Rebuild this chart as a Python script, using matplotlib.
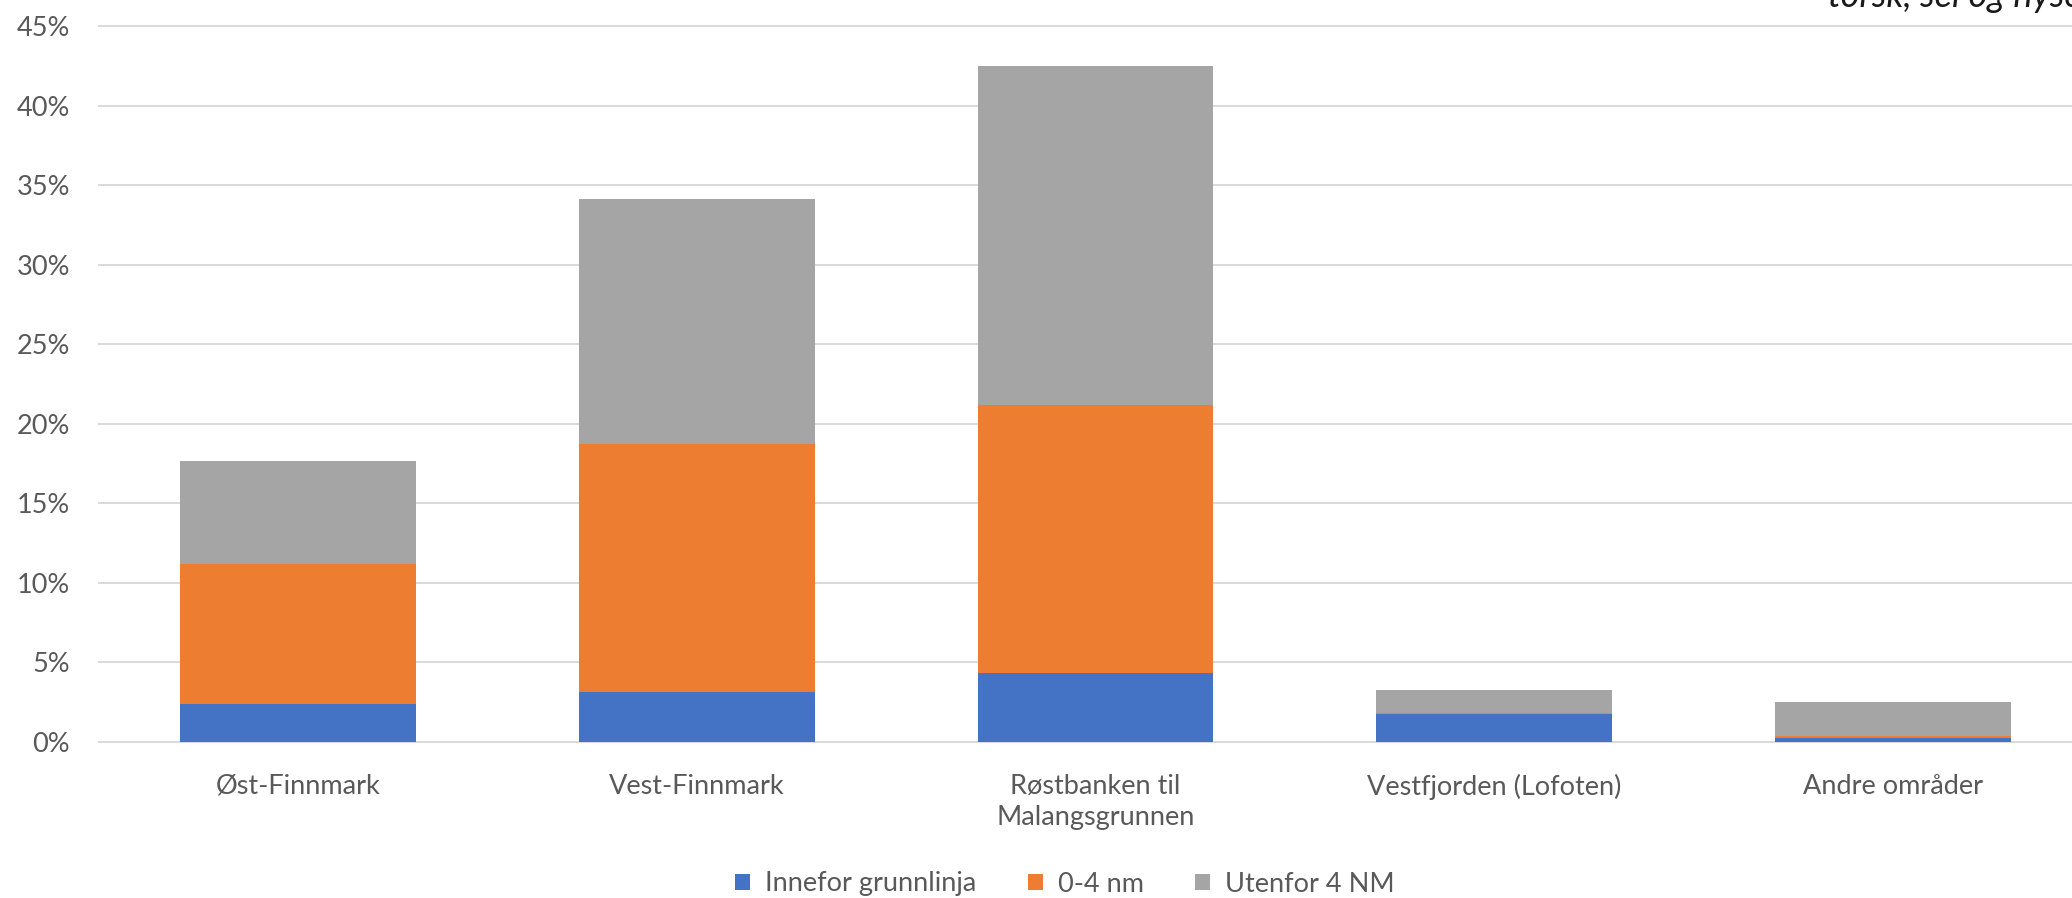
import matplotlib
matplotlib.use("Agg")
import matplotlib.pyplot as plt
import numpy as np

# Data (andel i prosent)
omrader = ["Øst-Finnmark", "Vest-Finnmark", "Røstbanken til\nMalangsgrunnen",
           "Vestfjorden (Lofoten)", "Andre områder"]
innefor = [2.35, 3.1, 4.35, 1.75, 0.22]
null_fire = [8.8, 15.6, 16.85, 0.05, 0.12]
utenfor = [6.5, 15.4, 21.3, 1.47, 2.18]

serier = ["Innefor grunnlinja", "0-4 nm", "Utenfor 4 NM"]
farger = ["#4472C4", "#ED7D31", "#A5A5A5"]

plt.rcParams['font.family'] = ['Lato', 'DejaVu Sans']
tekstfarge = "#595959"
fs = 19.5

W, H = 2072, 898
fig = plt.figure(figsize=(W / 100, H / 100), dpi=100)
venstre, hoyre = 99, 2092
bunn, topp = 898 - 741.7, 898 - 26
ax = fig.add_axes([venstre / W, bunn / H, (hoyre - venstre) / W, (topp - bunn) / H])

x = np.arange(len(omrader))
bredde = 0.592
bunner = np.zeros(len(omrader))
for verdier, navn, farge in zip([innefor, null_fire, utenfor], serier, farger):
    v = np.array(verdier) / 100
    ax.bar(x, v, bredde, bottom=bunner, color=farge, label=navn, zorder=3)
    bunner += v

ax.set_xlim(-0.5, len(omrader) - 0.5)
ax.set_ylim(0, 0.45)
ax.set_yticks(np.arange(0, 0.451, 0.05))
ax.set_yticklabels([f"{int(round(t * 100))}%" for t in np.arange(0, 0.451, 0.05)])
ax.set_xticks(x)
ax.set_xticklabels(omrader, linespacing=1.3)

ax.yaxis.grid(True, color="#d9d9d9", linewidth=1.4, zorder=0)
for gl in ax.get_ygridlines():
    gl.set_clip_on(False)
ax.set_axisbelow(True)
for s in ax.spines.values():
    s.set_visible(False)
ax.tick_params(axis='y', length=0, pad=21, labelsize=fs, labelcolor=tekstfarge)
ax.tick_params(axis='x', length=0, pad=23, labelsize=fs, labelcolor=tekstfarge)

# Legend nederst
fig.legend(loc='center', bbox_to_anchor=(1065 / W, 1 - 884 / H), ncol=3, frameon=False,
           fontsize=fs, labelcolor=tekstfarge, handlelength=0.55, handleheight=0.55,
           handletextpad=0.55, columnspacing=1.9)

# Avkuttet tittel øverst til høyre (kuttet også i originalen)
fig.text(1828 / W, 1 - 7 / H, "torsk, sei og hyse", fontsize=26, style='italic',
         color="#1a1a1a", ha='left', va='baseline')

fig.savefig("out.png", dpi=100)
